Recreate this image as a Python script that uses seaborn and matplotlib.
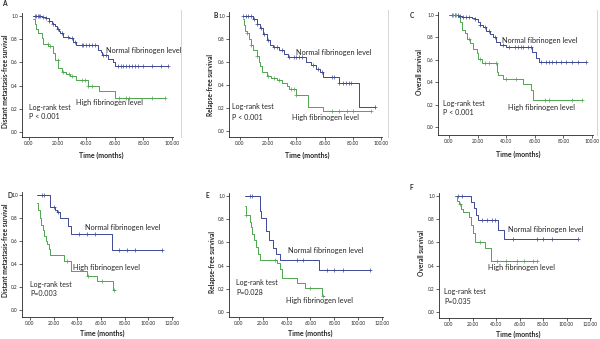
import numpy as np
import pandas as pd
import matplotlib
matplotlib.use('Agg')
import matplotlib.pyplot as plt
import seaborn as sns

sns.set_style("ticks")
plt.rcParams['font.family'] = ['Lato', 'DejaVu Sans']

NORM_COL = '#3d4896'
HIGH_COL = '#4fa64f'

# ---- A: distant metastasis-free survival (all patients)
a_norm_t = [3, 9, 12, 14, 16, 17, 18, 19.5, 21, 22, 24, 28, 31, 33, 48, 50, 51, 55, 59, 60, 97]
a_norm_s = [1.0, 0.99, 0.98, 0.96, 0.94, 0.93, 0.91, 0.89, 0.87, 0.85, 0.82, 0.81, 0.78, 0.75, 0.71, 0.69, 0.66, 0.63, 0.60, 0.57, 0.57]
a_norm_c = [4, 5, 6, 7, 8, 10, 12, 14, 17, 20, 23, 27, 30, 32, 37, 38, 40, 42, 44, 46, 52, 54,
            62, 64, 66, 68, 70, 72, 74, 76, 80, 86, 92, 97]
a_high_t = [3, 4, 4.7, 6.5, 8.9, 10, 13.5, 17, 18.2, 20.5, 22.8, 26, 29, 33, 41, 49, 60, 95]
a_high_s = [0.97, 0.93, 0.89, 0.85, 0.81, 0.76, 0.74, 0.68, 0.62, 0.55, 0.52, 0.50, 0.48, 0.45, 0.40, 0.35, 0.29, 0.29]
a_high_c = [13, 15, 20, 24, 28, 30, 37, 39, 41, 44, 63, 68, 70, 86, 95]

# ---- B: relapse-free survival (all patients)
b_norm_t = [2, 9.5, 12, 14, 16.5, 19, 21, 23.5, 28, 31, 34, 47, 50, 54, 57, 59, 70, 84.5, 96]
b_norm_s = [1.0, 0.97, 0.93, 0.89, 0.84, 0.79, 0.75, 0.73, 0.70, 0.67, 0.64, 0.60, 0.57, 0.54, 0.51, 0.47, 0.42, 0.21, 0.21]
b_norm_c = [2, 4, 6, 8, 10, 12, 15, 17, 20, 24, 26, 30, 35, 38, 40, 42, 44, 52, 55, 58,
            65, 67, 70, 73, 75, 77, 79, 96]
b_high_t = [2, 3, 3.5, 5, 6.6, 7.6, 9.5, 12, 13.5, 14.2, 15.4, 19, 22, 26, 29.5, 33, 35, 40, 48.5, 59, 93]
b_high_s = [0.97, 0.92, 0.87, 0.85, 0.80, 0.75, 0.70, 0.65, 0.60, 0.56, 0.51, 0.48, 0.46, 0.44, 0.42, 0.39, 0.36, 0.31, 0.21, 0.175, 0.175]
b_high_c = [5, 8, 12, 20, 24, 28, 36, 38, 40, 65, 70, 76, 80, 93]

# ---- C: overall survival (all patients)
c_norm_t = [0, 6.5, 9, 16, 18, 20, 22, 24, 26, 29, 31, 33, 36, 40, 58, 61, 62.6, 96]
c_norm_s = [1.0, 0.99, 0.98, 0.97, 0.96, 0.94, 0.91, 0.89, 0.86, 0.83, 0.80, 0.76, 0.73, 0.71, 0.67, 0.62, 0.58, 0.58]
c_norm_c = [2, 4, 6, 8, 10, 12, 14, 18, 22, 25, 28, 32, 38, 42, 46, 48, 50, 52, 55, 57,
            64, 68, 70, 72, 75, 78, 82, 86, 90, 96]
c_high_t = [0, 6.5, 7.7, 8.9, 11.2, 12.4, 14.7, 17, 19.4, 20.5, 22.8, 33.4, 34.5, 38, 52, 57, 58.6, 93]
c_high_s = [1.0, 0.985, 0.94, 0.87, 0.84, 0.79, 0.75, 0.70, 0.66, 0.61, 0.57, 0.49, 0.46, 0.43, 0.38, 0.33, 0.24, 0.24]
c_high_c = [3, 5, 14, 22, 25, 28, 33, 40, 47, 67, 70, 86, 93]

# ---- D: distant metastasis-free survival (subgroup)
d_norm_t = [5.6, 17, 21, 23, 25.4, 32, 34.7, 69, 111.6]
d_norm_s = [1.0, 0.90, 0.87, 0.85, 0.80, 0.73, 0.66, 0.52, 0.52]
d_norm_c = [10, 11.5, 20, 24, 41, 48, 55, 75, 82, 89, 111.6]
d_high_t = [5.6, 6.5, 8.5, 9.3, 10.7, 12, 13.5, 14.7, 16, 17, 29, 34.7, 48, 57, 70, 72]
d_high_s = [0.93, 0.87, 0.80, 0.74, 0.70, 0.64, 0.60, 0.57, 0.53, 0.48, 0.43, 0.34, 0.30, 0.25, 0.17, 0.17]
d_high_c = [31, 49.4, 61, 71]

# ---- E: relapse-free survival (subgroup)
e_norm_t = [4.8, 17.4, 18.8, 22.5, 25.3, 28.7, 31, 34.3, 67.4, 110]
e_norm_s = [1.0, 0.87, 0.81, 0.70, 0.62, 0.55, 0.50, 0.45, 0.36, 0.36]
e_norm_c = [9, 11.2, 48.3, 54, 73.6, 79.8, 87.6, 109.6]
e_high_t = [4.8, 6.2, 9, 10.4, 11.2, 12.6, 14, 16, 17.4, 32, 34.3, 35.7, 48.3, 55, 69.4, 71.3]
e_high_s = [0.91, 0.84, 0.78, 0.73, 0.67, 0.62, 0.56, 0.50, 0.45, 0.42, 0.37, 0.29, 0.25, 0.21, 0.14, 0.14]
e_high_c = [6.2, 30, 59.6, 70.8]

# ---- F: overall survival (subgroup)
f_norm_t = [5.1, 18.4, 21.3, 22.7, 24.4, 42, 46.8, 110]
f_norm_s = [1.0, 0.95, 0.90, 0.84, 0.79, 0.71, 0.63, 0.63]
f_norm_c = [8, 10.8, 27.8, 32.6, 36.3, 39, 54.2, 74.6, 80.3, 87.4, 110]
f_high_t = [5.1, 7.1, 8.8, 10.2, 11.6, 17.3, 18.7, 20.7, 22.1, 30.6, 35.5, 75.2]
f_high_s = [1.0, 0.96, 0.93, 0.89, 0.86, 0.82, 0.75, 0.68, 0.60, 0.55, 0.44, 0.44]
f_high_c = [9.4, 26.4, 40.6, 48.5, 57.6, 63.8, 71.2, 75.2]

panels = [
    # letter, ylabel, data, p-text, x-ticks max
    ('A', 'Distant metastasis-free survival', (a_norm_t, a_norm_s, a_norm_c, a_high_t, a_high_s, a_high_c), 'P < 0.001', 100),
    ('B', 'Relapse-free survival', (b_norm_t, b_norm_s, b_norm_c, b_high_t, b_high_s, b_high_c), 'P < 0.001', 100),
    ('C', 'Overall survival', (c_norm_t, c_norm_s, c_norm_c, c_high_t, c_high_s, c_high_c), 'P < 0.001', 100),
    ('D', 'Distant metastasis-free survival', (d_norm_t, d_norm_s, d_norm_c, d_high_t, d_high_s, d_high_c), 'P=0.003', 120),
    ('E', 'Relapse-free survival', (e_norm_t, e_norm_s, e_norm_c, e_high_t, e_high_s, e_high_c), 'P=0.028', 120),
    ('F', 'Overall survival', (f_norm_t, f_norm_s, f_norm_c, f_high_t, f_high_s, f_high_c), 'P=0.035', 120),
]

# layout in pixels: axes box (left, right, top, bottom), x-anchor (px of 0, px of max tick), y-anchor (px of 1.0, px of 0.0)
layout = {
    'A': dict(box=(22, 181, 10, 137), xa=(29, 172), ya=(16, 132), letter=(2, 4), ylab=(6, 81), xlab=(101, 155),
              norm=(54, 0.70), high=(33, 0.25), lr=(0, 0.21, 0.13)),
    'B': dict(box=(229, 388, 10, 137), xa=(240, 381), ya=(15.7, 131), letter=(214, 15), ylab=(211, 85), xlab=(307, 155),
              norm=(39.7, 0.685), high=(36.7, 0.12), lr=(-5.7, 0.21, 0.12)),
    'C': dict(box=(438, 597, 10, 135), xa=(449, 592), ya=(15, 127), letter=(410, 15), ylab=(420, 72), xlab=(518, 154),
              norm=(36.9, 0.77), high=(41.5, 0.17), lr=(-4, 0.21, 0.13)),
    'D': dict(box=(22, 180, 188, 317), xa=(30, 172), ya=(195, 310), letter=(7, 195), ylab=(6, 250), xlab=(102, 333),
              norm=(46.5, 0.72), high=(36.6, 0.37), lr=(0, 0.226, 0.145)),
    'E': dict(box=(229, 390, 188, 317), xa=(239, 382), ya=(196, 312), letter=(206, 195), ylab=(213, 262), xlab=(310, 333),
              norm=(41.4, 0.53), high=(39.5, 0.10), lr=(-2.5, 0.256, 0.17)),
    'F': dict(box=(439, 597, 188, 318), xa=(449, 590), ya=(196, 312), letter=(409, 187), ylab=(421, 253), xlab=(518, 334),
              norm=(50.5, 0.71), high=(33.5, 0.38), lr=(-4.3, 0.175, 0.09)),
}

W, H = 600, 339
fig = plt.figure(figsize=(6, 3.39), dpi=100)
fig.patch.set_facecolor('white')


def step_at(t, times, surv):
    idx = np.searchsorted(np.asarray(times), np.asarray(t), side='right') - 1
    idx = np.clip(idx, 0, len(surv) - 1)
    return np.asarray(surv)[idx]


for letter, ylabel, data, ptxt, xmax in panels:
    L = layout[letter]
    l, r, t, b = L['box']
    ax = fig.add_axes([l / W, 1 - b / H, (r - l) / W, (b - t) / H])
    # data limits from pixel anchors
    x0p, x1p = L['xa']
    sx = (x1p - x0p) / xmax
    y1p, y0p = L['ya']
    sy = y0p - y1p
    ax.set_xlim((l - x0p) / sx, (r - x0p) / sx)
    ax.set_ylim((y0p - b) / sy, (y0p - t) / sy)

    nt, ns, nc, ht, hs, hc = data
    for times, surv, cens, col in [(nt, ns, nc, NORM_COL), (ht, hs, hc, HIGH_COL)]:
        df = pd.DataFrame({'time': times, 'surv': surv})
        sns.lineplot(data=df, x='time', y='surv', drawstyle='steps-post', color=col,
                     lw=0.7, ax=ax, estimator=None)
        cdf = pd.DataFrame({'time': cens, 'surv': step_at(cens, times, surv)})
        sns.scatterplot(data=cdf, x='time', y='surv', marker='+', color=col, s=6,
                        linewidth=0.5, ax=ax, zorder=3)

    ax.set_xticks(np.arange(0, xmax + 1, 20))
    ax.set_xticklabels(['%.2f' % v for v in np.arange(0, xmax + 1, 20)])
    ax.set_yticks(np.arange(0, 1.01, 0.2))
    ax.set_yticklabels(['%.1f' % v for v in np.arange(0, 1.01, 0.2)])
    ax.tick_params(axis='both', direction='out', length=2, width=0.5, labelsize=3.4, pad=1)

    for s in ['top', 'right']:
        ax.spines[s].set_visible(False)
    ax.spines['left'].set_linewidth(0.6)
    ax.spines['bottom'].set_linewidth(0.6)
    ax.spines['bottom'].set_bounds(ax.get_xlim()[0], xmax + 1)
    ax.spines['left'].set_bounds(ax.get_ylim()[0], 1.03)
    if letter in 'ABC':
        ax.spines['right'].set_visible(True)
        ax.spines['right'].set_color('#d0d0d0')
        ax.spines['right'].set_linewidth(0.6)

    ax.set_xlabel('')
    ax.set_ylabel('')
    # axis titles placed by pixel position
    fig.text(L['xlab'][0] / W, 1 - L['xlab'][1] / H, 'Time (months)', fontsize=5.0,
             fontweight='bold', ha='center', va='center')
    fig.text(L['ylab'][0] / W, 1 - L['ylab'][1] / H, ylabel, fontsize=4.8, fontweight='bold',
             rotation=90, ha='center', va='center')
    fig.text(L['letter'][0] / W, 1 - L['letter'][1] / H, letter, fontsize=4.8,
             fontweight='bold', ha='left', va='center')

    ax.text(L['norm'][0], L['norm'][1], 'Normal fibrinogen level', fontsize=5.3, va='center', ha='left')
    ax.text(L['high'][0], L['high'][1], 'High fibrinogen level', fontsize=5.3, va='center', ha='left')
    ax.text(L['lr'][0], L['lr'][1], 'Log-rank test', fontsize=5.1, va='center', ha='left')
    ax.text(L['lr'][0], L['lr'][2], ptxt, fontsize=5.1, va='center', ha='left')

fig.savefig('out.png', dpi=100, facecolor='white')
